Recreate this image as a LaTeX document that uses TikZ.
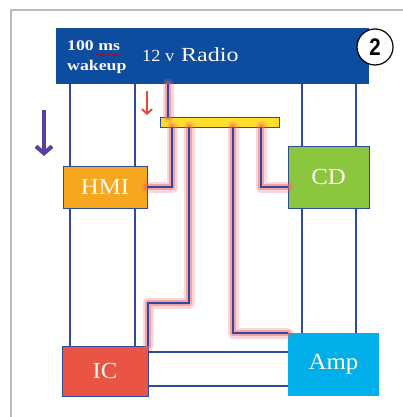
\documentclass[tikz,border=0pt]{standalone}
\usepackage{fontspec}
\setmainfont{Liberation Serif}
\newfontfamily\hdrfont[FakeStretch=1.2]{Liberation Serif}
\newfontfamily\boxfont[FakeStretch=1.08]{Liberation Serif}
\newfontfamily\numfont[FakeStretch=0.85]{Liberation Sans}
\usetikzlibrary{arrows.meta,decorations.pathmorphing}
\definecolor{hdrblue}{HTML}{0C4DA0}
\definecolor{lineblue}{HTML}{2D4A9C}
\definecolor{hmiorange}{HTML}{F6A71E}
\definecolor{cdgreen}{HTML}{8CC63F}
\definecolor{icred}{HTML}{EA5444}
\definecolor{ampcyan}{HTML}{00AEEA}
\definecolor{baryellow}{HTML}{FFDD2A}
\definecolor{arrowpurple}{HTML}{5A3F9E}
\definecolor{arrowred}{HTML}{E8483C}
\definecolor{glowred}{HTML}{F0606C}
\definecolor{textwhite}{HTML}{FFF8EE}
\begin{document}
\begin{tikzpicture}[x=1pt,y=-1pt,
  blk/.style={anchor=north west,inner sep=0pt,outer sep=0pt,draw=lineblue,line width=0.9pt,
    text=textwhite,font=\boxfont\fontsize{23}{25}\selectfont},
  bl/.style={draw=lineblue,line width=1.2pt},
  glowA/.style={draw=glowred,line width=11pt,opacity=0.25,line cap=round,line join=round},
  glowB/.style={draw=glowred,line width=6pt,opacity=0.45,line cap=round,line join=round},
  hdrtxt/.style={anchor=base west,inner sep=0pt,text=textwhite}]
\useasboundingbox (0,0) rectangle (403,417);
\fill[white] (0,0) rectangle (403,417);
% outer frame
\coordinate (fa) at (11,417);
\coordinate (fb) at (11,10);
\coordinate (fc) at (403,10);
\draw[gray!55,line width=1.5pt] (fa) -- (fb) -- (fc);
% header
\node[anchor=north west,inner sep=0pt,outer sep=0pt,fill=hdrblue,minimum width=313pt,minimum height=56pt] (hdr) at (56,28) {};
\node[hdrtxt,font=\hdrfont\bfseries\fontsize{14.8}{16}\selectfont] (t100) at (67,51) {100 ms};
\node[hdrtxt,font=\hdrfont\bfseries\fontsize{14.8}{16}\selectfont] (twake) at (67,71) {wakeup};
\node[hdrtxt,font=\boxfont\fontsize{17}{19}\selectfont] (t12) at (142,62) {12 v};
\node[hdrtxt,font=\hdrfont\fontsize{20}{22}\selectfont] (trad) at (181,62) {Radio};
\coordinate (sqa) at (96,55);
\coordinate (sqb) at (119,55);
\draw[red!80!black,line width=0.6pt,decorate,decoration={snake,amplitude=0.8pt,segment length=3pt}] (sqa) -- (sqb);
% number circle
\node[circle,draw=black,fill=white,line width=1.2pt,minimum size=36pt,inner sep=0pt,
  font=\numfont\bfseries\fontsize{24}{24}\selectfont] (num) at (375,47) {2};
% boxes
\node[blk,fill=hmiorange,minimum width=84pt,minimum height=42pt] (hmi) at (63,166) {HMI};
\node[blk,fill=cdgreen,minimum width=81pt,minimum height=62pt] (cd) at (288,146) {CD};
\node[blk,fill=icred,minimum width=86pt,minimum height=50pt] (ic) at (62,346) {IC};
\node[blk,fill=ampcyan,draw=none,minimum width=91pt,minimum height=63pt] (amp) at (288,333) {Amp};
\node[anchor=north west,inner sep=0pt,outer sep=0pt,fill=baryellow,draw=lineblue,line width=0.8pt,
  minimum width=119pt,minimum height=10pt] (bar) at (160,117) {};
% x positions
\coordinate (xa) at (70,0);
\coordinate (xb) at (135,0);
\coordinate (xc) at (302,0);
\coordinate (xd) at (356,0);
\coordinate (xr) at (168,0);
\coordinate (x1) at (172,0);
\coordinate (x2) at (189,0);
\coordinate (x3) at (233,0);
\coordinate (x4) at (261,0);
\coordinate (yh) at (0,187);
\coordinate (yi) at (0,303);
\coordinate (ya) at (0,333);
\coordinate (yc) at (0,187);
\coordinate (yb1) at (0,352);
\coordinate (yb2) at (0,386);
% plain blue lines
\draw[bl] (hdr.south -| xa) -- (hmi.north -| xa);
\draw[bl] (hdr.south -| xb) -- (hmi.north -| xb);
\draw[bl] (hmi.south -| xa) -- (ic.north -| xa);
\draw[bl] (hmi.south -| xb) -- (ic.north -| xb);
\draw[bl] (hdr.south -| xc) -- (cd.north -| xc);
\draw[bl] (hdr.south -| xd) -- (cd.north -| xd);
\draw[bl] (cd.south -| xc) -- (amp.north -| xc);
\draw[bl] (cd.south -| xd) -- (amp.north -| xd);
\draw[bl] (ic.east |- yb1) -- (amp.west |- yb1);
\draw[bl] (ic.east |- yb2) -- (amp.west |- yb2);
% glowing wires
\foreach \g in {glowA,glowB}{
  \draw[\g] (hdr.south -| xr) -- (bar.north -| xr);
  \draw[\g] (bar.south -| x1) -- (x1 |- yh) -- (hmi.east |- yh);
  \draw[\g] (bar.south -| x2) -- (x2 |- yi) -- (ic.north east |- yi) -- (ic.north east);
  \draw[\g] (bar.south -| x3) -- (x3 |- ya) -- (amp.north west);
  \draw[\g] (bar.south -| x4) -- (x4 |- yc) -- (cd.west |- yc);
}
\draw[bl] (hdr.south -| xr) -- (bar.north -| xr);
\draw[bl] (bar.south -| x1) -- (x1 |- yh) -- (hmi.east |- yh);
\draw[bl] (bar.south -| x2) -- (x2 |- yi) -- (ic.north east |- yi) -- (ic.north east);
\draw[bl] (bar.south -| x3) -- (x3 |- ya) -- (amp.north west);
\draw[bl] (bar.south -| x4) -- (x4 |- yc) -- (cd.west |- yc);
% arrows
\coordinate (pa1) at (44,110);
\coordinate (pa2) at (44,156);
\draw[arrowpurple,line width=4pt,-{Straight Barb[length=7pt,width=16pt,line width=4pt]}] (pa1) -- (pa2);
\coordinate (ra1) at (147,91);
\coordinate (ra2) at (147,115);
\draw[arrowred,line width=2pt,-{Straight Barb[length=4.5pt,width=10pt,line width=2pt]}] (ra1) -- (ra2);
\end{tikzpicture}
\end{document}
